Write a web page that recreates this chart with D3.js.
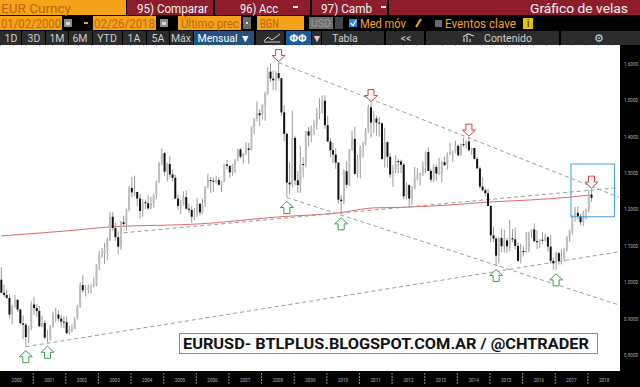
<!DOCTYPE html>
<html>
<head>
<meta charset="utf-8">
<script src="https://cdn.jsdelivr.net/npm/d3@7/dist/d3.min.js"></script>
<style>
  html, body { margin: 0; padding: 0; background: #000; }
  svg { display: block; }
  text { font-family: Roboto, "Liberation Sans", sans-serif; }
</style>
</head>
<body>
<svg width="640" height="387"></svg>
<script>
// EUR/USD monthly candles, Jan 2000 - Feb 2018 (one row per year)
var opens = [
  1.0070,0.9710,0.9650,0.9570,0.9110,0.9330,0.9520,0.9250,0.8870,0.8830,0.8490,0.8720,
  0.9390,0.9290,0.9210,0.8790,0.8880,0.8480,0.8490,0.8760,0.9110,0.9110,0.9000,0.8920,
  0.8900,0.8600,0.8700,0.8720,0.9010,0.9330,0.9920,0.9780,0.9800,0.9860,0.9890,0.9930,
  1.0490,1.0740,1.0790,1.0910,1.1160,1.1800,1.1490,1.1240,1.0980,1.1650,1.1600,1.1990,
  1.2590,1.2470,1.2480,1.2300,1.1960,1.2200,1.2170,1.2030,1.2180,1.2420,1.2760,1.3270,
  1.3550,1.3040,1.3250,1.2960,1.2870,1.2300,1.2100,1.2120,1.2340,1.2020,1.1990,1.1800,
  1.1840,1.2160,1.1920,1.2120,1.2630,1.2810,1.2790,1.2770,1.2810,1.2680,1.2760,1.3240,
  1.3200,1.3020,1.3230,1.3360,1.3650,1.3450,1.3530,1.3680,1.3640,1.4270,1.4490,1.4650,
  1.4590,1.4870,1.5180,1.5790,1.5600,1.5550,1.5750,1.5610,1.4670,1.4080,1.2740,1.2690,
  1.3970,1.2800,1.2670,1.3250,1.3240,1.4150,1.4030,1.4250,1.4330,1.4640,1.4720,1.4990,
  1.4320,1.3870,1.3630,1.3510,1.3290,1.2270,1.2230,1.3050,1.2680,1.3630,1.3940,1.2980,
  1.3380,1.3690,1.3810,1.4160,1.4810,1.4390,1.4500,1.4390,1.4370,1.3390,1.3850,1.3450,
  1.2960,1.3080,1.3330,1.3320,1.3230,1.2360,1.2670,1.2300,1.2580,1.2860,1.2950,1.2990,
  1.3190,1.3580,1.3060,1.2820,1.3170,1.2990,1.3010,1.3300,1.3220,1.3520,1.3580,1.3590,
  1.3750,1.3490,1.3800,1.3770,1.3870,1.3630,1.3690,1.3390,1.3130,1.2630,1.2530,1.2450,
  1.2100,1.1290,1.1200,1.0730,1.1220,1.0990,1.1150,1.0990,1.1210,1.1180,1.1000,1.0590,
  1.0860,1.0830,1.0870,1.1380,1.1450,1.1130,1.1100,1.1170,1.1160,1.1240,1.0980,1.0590,
  1.0520,1.0800,1.0580,1.0650,1.0890,1.1240,1.1420,1.1840,1.1910,1.1810,1.1650,1.1900,
  1.2000,1.2410
];
var highs = [
  1.0414,0.9930,0.9790,0.9680,0.9380,0.9650,0.9520,0.9270,0.9090,0.8890,0.8800,0.9470,
  0.9600,0.9400,0.9350,0.9080,0.8960,0.8680,0.8830,0.9190,0.9300,0.9230,0.9100,0.9050,
  0.9050,0.8800,0.8840,0.9040,0.9380,0.9990,1.0190,0.9930,0.9940,0.9950,1.0140,1.0500,
  1.0860,1.0940,1.1080,1.1220,1.1930,1.1930,1.1640,1.1400,1.1680,1.1830,1.2020,1.2650,
  1.2900,1.2930,1.2490,1.2420,1.2290,1.2270,1.2390,1.2350,1.2440,1.2800,1.3310,1.3670,
  1.3580,1.3290,1.3480,1.3100,1.2960,1.2420,1.2260,1.2500,1.2520,1.2160,1.2090,1.2040,
  1.2320,1.2160,1.2300,1.2640,1.2980,1.2890,1.2880,1.2930,1.2880,1.2790,1.3260,1.3370,
  1.3210,1.3250,1.3390,1.3680,1.3690,1.3560,1.3850,1.3830,1.4280,1.4520,1.4970,1.4750,
  1.4890,1.5240,1.5910,1.6020,1.5820,1.5810,1.6040,1.5620,1.4870,1.4120,1.3300,1.4720,
  1.4030,1.3060,1.3740,1.3440,1.4160,1.4270,1.4310,1.4450,1.4790,1.5060,1.5140,1.5140,
  1.4580,1.3970,1.3830,1.3690,1.3300,1.2390,1.3110,1.3330,1.3660,1.4160,1.4280,1.3500,
  1.3750,1.3860,1.4250,1.4880,1.4940,1.4700,1.4580,1.4550,1.4390,1.4250,1.3870,1.3550,
  1.3230,1.3490,1.3380,1.3370,1.3280,1.2750,1.2690,1.2640,1.3170,1.3140,1.3010,1.3310,
  1.3600,1.3710,1.3110,1.3240,1.3240,1.3420,1.3340,1.3450,1.3570,1.3830,1.3620,1.3890,
  1.3780,1.3820,1.3970,1.3900,1.3990,1.3700,1.3700,1.3440,1.3190,1.2890,1.2580,1.2570,
  1.2110,1.1530,1.1230,1.1220,1.1470,1.1440,1.1210,1.1710,1.1460,1.1500,1.1100,1.1060,
  1.0990,1.1380,1.1390,1.1460,1.1620,1.1430,1.1190,1.1370,1.1330,1.1260,1.1300,1.0680,
  1.0830,1.0830,1.0910,1.0950,1.1270,1.1450,1.1850,1.2070,1.2090,1.1880,1.1960,1.2020,
  1.2540,1.2560
];
var lows = [
  0.9700,0.9600,0.9540,0.9010,0.8840,0.9300,0.9180,0.8850,0.8440,0.8228,0.8330,0.8680,
  0.9100,0.9050,0.8770,0.8760,0.8440,0.8350,0.8400,0.8760,0.8900,0.8930,0.8750,0.8730,
  0.8570,0.8560,0.8640,0.8720,0.8980,0.9300,0.9710,0.9610,0.9690,0.9690,0.9860,0.9890,
  1.0340,1.0670,1.0500,1.0620,1.1130,1.1410,1.1140,1.0770,1.0890,1.1510,1.1420,1.1950,
  1.2340,1.2370,1.2080,1.1760,1.1800,1.2010,1.2000,1.2010,1.2050,1.2280,1.2720,1.3220,
  1.2920,1.2770,1.2880,1.2780,1.2300,1.1990,1.1870,1.2110,1.2000,1.1900,1.1640,1.1700,
  1.1800,1.1830,1.1870,1.2070,1.2580,1.2460,1.2480,1.2710,1.2660,1.2480,1.2750,1.3100,
  1.2870,1.2930,1.3000,1.3330,1.3400,1.3270,1.3500,1.3260,1.3620,1.4080,1.4420,1.4300,
  1.4480,1.4440,1.5160,1.5500,1.5280,1.5290,1.5540,1.4580,1.3880,1.2330,1.2420,1.2610,
  1.2660,1.2460,1.2460,1.2880,1.3160,1.3740,1.3850,1.4040,1.4200,1.4480,1.4640,1.4220,
  1.3860,1.3440,1.3270,1.3120,1.2170,1.1880,1.2150,1.2590,1.2640,1.3620,1.2970,1.2870,
  1.2860,1.3430,1.3760,1.4100,1.3970,1.4100,1.4030,1.4000,1.3360,1.3150,1.3150,1.2860,
  1.2620,1.3000,1.2980,1.3000,1.2290,1.2290,1.2040,1.2130,1.2560,1.2800,1.2660,1.2920,
  1.3000,1.3050,1.2750,1.2750,1.2790,1.2950,1.2750,1.3190,1.3100,1.3500,1.3300,1.3550,
  1.3480,1.3480,1.3710,1.3670,1.3590,1.3500,1.3370,1.3130,1.2570,1.2500,1.2360,1.2090,
  1.1100,1.1100,1.0460,1.0520,1.0820,1.0820,1.0810,1.0850,1.1090,1.0900,1.0560,1.0520,
  1.0710,1.0810,1.0820,1.1210,1.1100,1.0910,1.0950,1.1050,1.1120,1.0850,1.0520,1.0340,
  1.0340,1.0490,1.0490,1.0570,1.0840,1.1120,1.1310,1.1660,1.1720,1.1570,1.1550,1.1720,
  1.1920,1.2210
];
var closes = [
  0.9710,0.9650,0.9570,0.9110,0.9330,0.9520,0.9250,0.8870,0.8830,0.8490,0.8720,0.9390,
  0.9290,0.9210,0.8790,0.8880,0.8480,0.8490,0.8760,0.9110,0.9110,0.9000,0.8920,0.8900,
  0.8600,0.8700,0.8720,0.9010,0.9330,0.9920,0.9780,0.9800,0.9860,0.9890,0.9930,1.0490,
  1.0740,1.0790,1.0910,1.1160,1.1800,1.1490,1.1240,1.0980,1.1650,1.1600,1.1990,1.2590,
  1.2470,1.2480,1.2300,1.1960,1.2200,1.2170,1.2030,1.2180,1.2420,1.2760,1.3270,1.3550,
  1.3040,1.3250,1.2960,1.2870,1.2300,1.2100,1.2120,1.2340,1.2020,1.1990,1.1800,1.1840,
  1.2160,1.1920,1.2120,1.2630,1.2810,1.2790,1.2770,1.2810,1.2680,1.2760,1.3240,1.3200,
  1.3020,1.3230,1.3360,1.3650,1.3450,1.3530,1.3680,1.3640,1.4270,1.4490,1.4650,1.4590,
  1.4870,1.5180,1.5790,1.5600,1.5550,1.5750,1.5610,1.4670,1.4080,1.2740,1.2690,1.3970,
  1.2800,1.2670,1.3250,1.3240,1.4150,1.4030,1.4250,1.4330,1.4640,1.4720,1.4990,1.4320,
  1.3870,1.3630,1.3510,1.3290,1.2270,1.2230,1.3050,1.2680,1.3630,1.3940,1.2980,1.3380,
  1.3690,1.3810,1.4160,1.4810,1.4390,1.4500,1.4390,1.4370,1.3390,1.3850,1.3450,1.2960,
  1.3080,1.3330,1.3320,1.3230,1.2360,1.2670,1.2300,1.2580,1.2860,1.2950,1.2990,1.3190,
  1.3580,1.3060,1.2820,1.3170,1.2990,1.3010,1.3300,1.3220,1.3520,1.3580,1.3590,1.3750,
  1.3490,1.3800,1.3770,1.3870,1.3630,1.3690,1.3390,1.3130,1.2630,1.2530,1.2450,1.2100,
  1.1290,1.1200,1.0730,1.1220,1.0990,1.1150,1.0990,1.1210,1.1180,1.1000,1.0590,1.0860,
  1.0830,1.0870,1.1380,1.1450,1.1130,1.1100,1.1170,1.1160,1.1240,1.0980,1.0590,1.0520,
  1.0800,1.0580,1.0650,1.0890,1.1240,1.1420,1.1840,1.1910,1.1810,1.1650,1.1900,1.2000,
  1.2410,1.2320
];

var yearLabels = ["2000","2001","2002","2003","2004","2005","2006","2007","2008","2009",
                  "2010","2011","2012","2013","2014","2015","2016","2017","2018"];
var priceTicks = [0.8, 0.9, 1.0, 1.1, 1.2, 1.3, 1.4, 1.5, 1.6];

// red moving average
var maDates  = ["2000-01","2002-01","2003-05","2006-02","2008-07","2010-05","2011-06",
                "2012-04","2013-10","2015-01","2016-04","2017-07","2018-02"];
var maValues = [1.1275,1.1412,1.1522,1.1604,1.1797,1.1907,1.2044,
                1.2058,1.2126,1.2209,1.2264,1.2346,1.2401];

// dashed trend lines [startMonth, startPrice, endMonth, endPrice]
var trendLines = [
  ["2008-07", 1.6040, "2018-12", 1.234],
  ["2008-10", 1.2330, "2018-12", 0.938],
  ["2000-10", 0.8228, "2018-12", 1.0835],
  ["2003-10", 1.1360, "2018-12", 1.260]
];

// arrows: tops (red, pointing down) and bottoms (green, pointing up)
var topMonths    = ["2008-07","2011-05","2014-05","2018-02"];
var topPrices    = [1.6040, 1.4940, 1.3990, 1.2560];
var bottomMonths = ["2000-10","2001-06","2008-10","2010-06","2015-03","2017-01"];
var bottomPrices = [0.8228, 0.8350, 1.2330, 1.1880, 1.0460, 1.0340];

// highlighted zone (blue box)
var boxMonths = ["2017-07", "2018-11"];
var boxPrices = [1.325, 1.180];

var watermark = "EURUSD- BTLPLUS.BLOGSPOT.COM.AR / @CHTRADER";

// ---------------------------------------------------------------------------
var svg = d3.select("svg"),
    plot = {left: 0, right: 620, top: 45, bottom: 371};

var parseMonth = d3.timeParse("%Y-%m");
function mid(m) { return d3.timeDay.offset(m, 15); }

var months = d3.timeMonth.range(new Date(2000, 0, 1), new Date(2018, 2, 1));
var candles = months.map(function(m, i) {
  return {date: mid(m), open: opens[i], high: highs[i], low: lows[i], close: closes[i]};
});

var x = d3.scaleTime()
          .domain([new Date(2000, 0, 1), new Date(2019, 0, 1)])
          .range([plot.left, plot.right]);
var y = d3.scaleLinear().domain([0.8, 1.6]).range([355, 64]);

function xm(s) { return x(mid(parseMonth(s))); }

// backgrounds
svg.append("rect").attr("width", 640).attr("height", 387).attr("fill", "#000");
svg.append("rect")
   .attr("x", plot.left).attr("y", plot.top)
   .attr("width", plot.right - plot.left).attr("height", plot.bottom - plot.top)
   .attr("fill", "#fff");

svg.append("defs").append("clipPath")
   .attr("id", "clip")
   .append("rect")
   .attr("x", plot.left).attr("y", plot.top)
   .attr("width", plot.right - plot.left).attr("height", plot.bottom - plot.top);

var chart = svg.append("g").attr("clip-path", "url(#clip)");

// faint dotted top border
chart.append("line")
     .attr("x1", plot.left).attr("x2", plot.right)
     .attr("y1", plot.top + 0.5).attr("y2", plot.top + 0.5)
     .attr("stroke", "#bbb").attr("stroke-dasharray", "1,12");

// moving average
var maLine = d3.line()
               .x(function(d, i) { return xm(d); })
               .y(function(d, i) { return y(maValues[i]); })
               .curve(d3.curveMonotoneX);
chart.append("path")
     .datum(maDates)
     .attr("d", maLine)
     .attr("fill", "none")
     .attr("stroke", "#e06a6a")
     .attr("stroke-width", 1);

// trend lines
chart.selectAll(".trend")
     .data(trendLines)
     .enter().append("line")
     .attr("class", "trend")
     .attr("x1", function(d) { return xm(d[0]); })
     .attr("y1", function(d) { return y(d[1]); })
     .attr("x2", function(d) { return xm(d[2]); })
     .attr("y2", function(d) { return y(d[3]); })
     .attr("stroke", "#9a9aa6")
     .attr("stroke-width", 1)
     .attr("stroke-dasharray", "4,3");

// candles
var candle = chart.selectAll(".candle")
                  .data(candles)
                  .enter().append("g")
                  .attr("class", "candle");

candle.append("line")
      .attr("x1", function(d) { return x(d.date); })
      .attr("x2", function(d) { return x(d.date); })
      .attr("y1", function(d) { return y(d.high); })
      .attr("y2", function(d) { return y(d.low); })
      .attr("stroke", "#9b9b9b")
      .attr("stroke-width", 1);

candle.append("rect")
      .attr("x", function(d) { return x(d.date) - 1; })
      .attr("width", 2)
      .attr("y", function(d) { return y(Math.max(d.open, d.close)); })
      .attr("height", function(d) { return Math.max(1, Math.abs(y(d.open) - y(d.close))); })
      .attr("fill", function(d) { return d.close >= d.open ? "#bdbdbd" : "#111"; });

// blue highlight box
chart.append("rect")
     .attr("x", x(parseMonth(boxMonths[0])))
     .attr("y", y(boxPrices[0]))
     .attr("width", x(parseMonth(boxMonths[1])) - x(parseMonth(boxMonths[0])))
     .attr("height", y(boxPrices[1]) - y(boxPrices[0]))
     .attr("fill", "none")
     .attr("stroke", "#3f9fe0")
     .attr("stroke-width", 1);

// arrows
var downArrow = "M0,0L-6.5,-6L-3,-6L-3,-12L3,-12L3,-6L6.5,-6Z",
    upArrow   = "M0,0L-6.5,6L-3,6L-3,12L3,12L3,6L6.5,6Z";

chart.selectAll(".top-arrow")
     .data(topMonths)
     .enter().append("path")
     .attr("class", "top-arrow")
     .attr("d", downArrow)
     .attr("transform", function(d, i) { return "translate(" + xm(d) + "," + (y(topPrices[i]) - 1) + ")"; })
     .attr("fill", "#fff")
     .attr("stroke", "#e23a3a")
     .attr("stroke-width", 1);

chart.selectAll(".bottom-arrow")
     .data(bottomMonths)
     .enter().append("path")
     .attr("class", "bottom-arrow")
     .attr("d", upArrow)
     .attr("transform", function(d, i) { return "translate(" + xm(d) + "," + (y(bottomPrices[i]) + 4) + ")"; })
     .attr("fill", "#fff")
     .attr("stroke", "#3aa048")
     .attr("stroke-width", 1);

// watermark box
var wm = svg.append("g").attr("transform", "translate(179,333)");
wm.append("rect")
  .attr("x", 0.5).attr("y", 0.5).attr("width", 418).attr("height", 20)
  .attr("fill", "#fff").attr("stroke", "#8a8a8a");
wm.append("text")
  .attr("x", 4).attr("y", 16)
  .attr("font-family", "Lato, 'Open Sans', sans-serif")
  .attr("font-weight", "bold")
  .attr("font-size", 15.5)
  .attr("textLength", 406)
  .attr("lengthAdjust", "spacingAndGlyphs")
  .attr("fill", "#111")
  .text(watermark);

// right price axis
var yAxis = d3.axisRight(y)
              .tickValues(priceTicks)
              .tickSize(0)
              .tickPadding(0)
              .tickFormat(d3.format(".4f"));
svg.append("g")
   .attr("transform", "translate(624,0)")
   .call(yAxis)
   .call(function(g) { g.select(".domain").remove(); })
   .selectAll("text")
   .attr("fill", "#b0b0b0")
   .attr("font-size", 4.6);

// bottom year axis: separators at year boundaries, labels mid-year
var yearStarts = yearLabels.map(function(s) { return new Date(+s, 0, 1); }).slice(1);
var yearMids   = yearLabels.map(function(s) { return new Date(+s, 6, 1); });

svg.append("g")
   .attr("transform", "translate(0," + (plot.bottom + 2) + ")")
   .call(d3.axisBottom(x).tickValues(yearStarts).tickSize(11).tickFormat(""))
   .call(function(g) {
     g.select(".domain").remove();
     g.selectAll("line").attr("stroke", "#8a8a8a").attr("stroke-dasharray", "2,1");
   });

svg.append("g")
   .attr("transform", "translate(0," + (plot.bottom + 5) + ")")
   .call(d3.axisBottom(x).tickValues(yearMids).tickSize(0).tickFormat(d3.timeFormat("%Y")))
   .call(function(g) { g.select(".domain").remove(); })
   .selectAll("text")
   .attr("fill", "#b0b0b0")
   .attr("font-size", 4.6);

// ---------------------------------------------------------------------------
// Bloomberg toolbar
var orange = "#f5a31a", crimson = "#8d1d2d", dim = "#2c2c2c";
var header = svg.append("g");

function box(g, x0, x1, y0, y1, fill) {
  return g.append("rect").attr("x", x0).attr("y", y0)
          .attr("width", x1 - x0).attr("height", y1 - y0).attr("fill", fill);
}
function label(g, str, x0, width, baseline, size, fill, anchor) {
  var t = g.append("text")
           .attr("x", x0).attr("y", baseline)
           .attr("font-size", size)
           .attr("fill", fill)
           .text(str);
  if (width) t.attr("textLength", width).attr("lengthAdjust", "spacingAndGlyphs");
  if (anchor) t.attr("text-anchor", anchor);
  return t;
}

// row 1
box(header, 0, 126, 0, 15, orange);
box(header, 127, 213, 0, 15, crimson);
box(header, 215, 310, 0, 15, crimson);
box(header, 312, 387, 0, 15, crimson);
box(header, 389, 640, 0, 15, crimson);
label(header, "EUR Curncy", 1, 70, 12.5, 13, "#b8680a");
label(header, "95) Comparar", 137, 71, 12.5, 13, "#f4f4f4");
label(header, "96) Acc", 240, 38, 12.5, 13, "#f4f4f4");
box(header, 293, 298, 6, 8, "#f4f4f4");
label(header, "97) Camb", 321, 51, 12.5, 13, "#f4f4f4");
box(header, 381, 386, 6, 8, "#f4f4f4");
label(header, "Gráfico de velas", 530, 98, 12.5, 13.5, "#f4f4f4");

// row 2
function calendar(x0) {
  box(header, x0, x0 + 8, 19, 27, "#8c8c8c");
  box(header, x0 + 2, x0 + 6, 22, 25, "#d8d8d8");
}
box(header, 0, 62, 16, 30, orange);
label(header, "01/02/2000", 1, 60, 27.5, 12.5, "#b8680a");
calendar(64);
box(header, 84, 88, 22, 24, orange);
box(header, 93, 156, 16, 30, orange);
label(header, "02/26/2018", 94, 61, 27.5, 12.5, "#b8680a");
calendar(160);
box(header, 178, 241, 16, 30, orange);
label(header, "Último prec", 181, 58, 27.5, 12.5, "#b8680a");
box(header, 243, 251, 17, 29, "#6a6a6a");
box(header, 246, 248, 22, 24, "#ddd");
box(header, 257, 304, 16, 30, orange);
label(header, "BGN", 260, 19, 27.5, 12, "#b8680a");
box(header, 309, 333, 17, 29, "#6e6e6e");
label(header, "USD", 311, 20, 27, 11.5, "#9a9a9a");
box(header, 335, 343, 17, 29, "#444");
box(header, 349, 357, 19, 27, "#2d86d6");
header.append("path").attr("d", "M350.5,23L353,25.5L356,20.5")
      .attr("fill", "none").attr("stroke", "#fff").attr("stroke-width", 1.2);
label(header, "Med móv", 360, 46, 27.5, 12.5, orange);
header.append("line").attr("x1", 416).attr("y1", 27).attr("x2", 421).attr("y2", 19)
      .attr("stroke", orange).attr("stroke-width", 2);
box(header, 435, 442, 20, 27, "#6a6a6a");
label(header, "Eventos clave", 445, 71, 27.5, 12.5, orange);
box(header, 523, 533, 18, 29, "#e8c400");
label(header, "i", 528, null, 27, 11, "#222", "middle");

// row 3 buttons [text, x0, x1, text centre]
var buttons = [
  ["1D", 0, 21, 11], ["3D", 22, 45, 34], ["1M", 46, 68, 57], ["6M", 69, 92, 80],
  ["YTD", 93, 122, 107], ["1A", 123, 146, 134], ["5A", 147, 169, 158], ["Máx", 170, 193, 181],
  ["Mensual ▼", 194, 254, 224], ["", 256, 284, 270], ["ΦΦ", 286, 311, 298], ["▼", 312, 321, 317],
  ["Tabla", 322, 384, 345], ["<<", 386, 424, 406], ["Contenido", 426, 559, 508],
  ["⚙", 561, 640, 599]
];
var active = {"Mensual ▼": "#24527e", "ΦΦ": "#1d5c9a"};
buttons.forEach(function(b) {
  box(header, b[1], b[2], 31, 45, active[b[0]] || dim);
  if (b[0]) {
    label(header, b[0], b[3], null, 42, b[0] === "ΦΦ" ? 11 : 10.5,
          active[b[0]] ? "#fff" : "#cfcfcf", "middle")
      .attr("font-weight", b[0] === "ΦΦ" ? "bold" : null);
  }
});
// small chart icons
header.append("path").attr("d", "M264,41L268,37L272,40L280,34M264,42L280,42")
      .attr("fill", "none").attr("stroke", "#cfcfcf").attr("stroke-width", 1);
header.append("path").attr("d", "M464,42L464,38M467,42L467,36M470,42L470,39M463,37L468,34L474,36")
      .attr("fill", "none").attr("stroke", "#cfcfcf").attr("stroke-width", 1.2);
</script>
</body>
</html>
